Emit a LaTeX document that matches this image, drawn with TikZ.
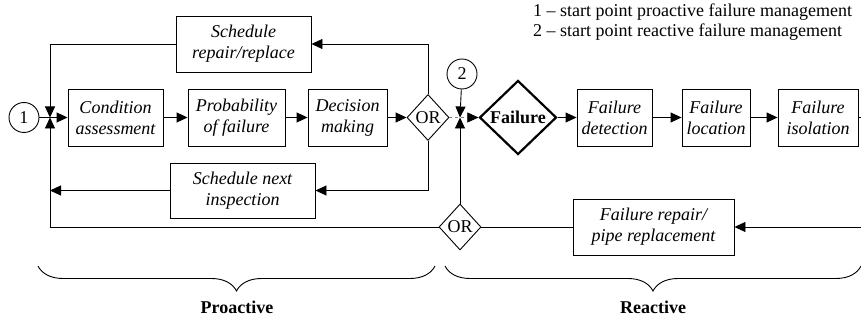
\documentclass[tikz,border=0pt]{standalone}
\usepackage{fontspec}
\setmainfont{Liberation Serif}
\usetikzlibrary{arrows.meta,shapes.geometric,decorations.pathreplacing}
\begin{document}
\begin{tikzpicture}[x=1pt,y=-1pt,
 box/.style={draw, line width=0.9pt, font=\fontsize{18}{21}\selectfont\itshape, align=center, inner sep=0pt, minimum height=57pt},
 gate/.style={draw, diamond, line width=0.9pt, font=\fontsize{18}{21}\selectfont, inner sep=0pt, minimum width=42pt, minimum height=46pt},
 arr/.style={line width=0.9pt, -{Triangle[length=11pt,width=10pt,color=black]}},
 ln/.style={line width=0.9pt},
 startc/.style={draw, circle, line width=0.9pt, minimum size=30pt, inner sep=0pt, font=\fontsize{18}{21}\selectfont},
 brc/.style={decorate, decoration={brace, mirror, amplitude=25pt}, line width=0.9pt},
 lbl/.style={font=\fontsize{18}{21}\selectfont\bfseries},
 leg/.style={anchor=base west, inner sep=0pt, font=\fontsize{18}{21}\selectfont}
]
\useasboundingbox (0,0) rectangle (861,320);
% proactive row
\node[box, minimum width=95pt] (ca) at (115.5,117.5) {Condition\\assessment};
\node[box, minimum width=97pt] (pf) at (236.5,117.5) {Probability\\of failure};
\node[box, minimum width=79pt] (dm) at (347.5,117.5) {Decision\\making};
\node[gate] (or1) at (428,117.5) {OR};
\node[box, minimum width=135pt, minimum height=56pt] (sr) at (243.5,44) {Schedule\\repair/replace};
\node[box, minimum width=145pt, minimum height=55pt] (sn) at (242.5,190.5) {Schedule next\\inspection};
% reactive row
\node[draw, diamond, line width=2.2pt, font=\fontsize{18}{21}\selectfont\bfseries, inner sep=0pt, minimum width=77pt, minimum height=74pt] (fail) at (518,117.5) {Failure};
\node[box, minimum width=75pt] (fd) at (614.5,117.5) {Failure\\detection};
\node[box, minimum width=68pt] (fl) at (716,117.5) {Failure\\location};
\node[box, minimum width=80pt] (fi) at (818,117.5) {Failure\\isolation};
\node[gate] (or2) at (460,227) {OR};
\node[box, minimum width=161pt, minimum height=56pt] (fr) at (653.5,227) {Failure repair/\\pipe replacement};
% start points
\node[startc] (s1) at (24,117.5) {1};
\node[startc] (s2) at (462,74) {2};
\coordinate (j1) at (50,117.5);
\coordinate (j2) at (460,117.5);
\coordinate (re) at (861,227);
\coordinate (ie) at (861,117.5);
% connectors
\draw[ln] (s1) -- (j1);
\draw[arr] (j1) -- (ca);
\draw[arr] (ca) -- (pf);
\draw[arr] (pf) -- (dm);
\draw[arr] (dm) -- (or1);
\draw[arr] (or1.north) |- (sr.east);
\draw[arr] (sr.west) -| (j1);
\draw[arr] (or1.south) |- (sn.east);
\draw[arr] (sn.west) -- (sn.west -| j1);
\draw[arr] (or2.west) -| (j1);
\draw[arr] (or2.north) -- (j2);
\draw[arr] (s2) -- (j2);
\draw[arr, gray, line width=0.6pt, dash pattern=on 3pt off 3pt] (or1.east) -- (fail.west);
\draw[arr] (fail) -- (fd);
\draw[arr] (fd) -- (fl);
\draw[arr] (fl) -- (fi);
\draw[ln] (fi.east) -- (ie);
\draw[arr] (re) -- (fr.east);
\draw[ln] (fr.west) -- (or2.east);
% braces
\draw[brc] (38,266) -- (435,266);
\draw[brc] (445,266) -- (861,266);
\node[lbl] (pro) at (237,307) {Proactive};
\node[lbl] (rea) at (653,307) {Reactive};
% legend
\node[leg] (lg1) at (533,17) {1 – start point proactive failure management};
\node[leg] (lg2) at (533,37) {2 – start point reactive failure management};
\end{tikzpicture}
\end{document}
